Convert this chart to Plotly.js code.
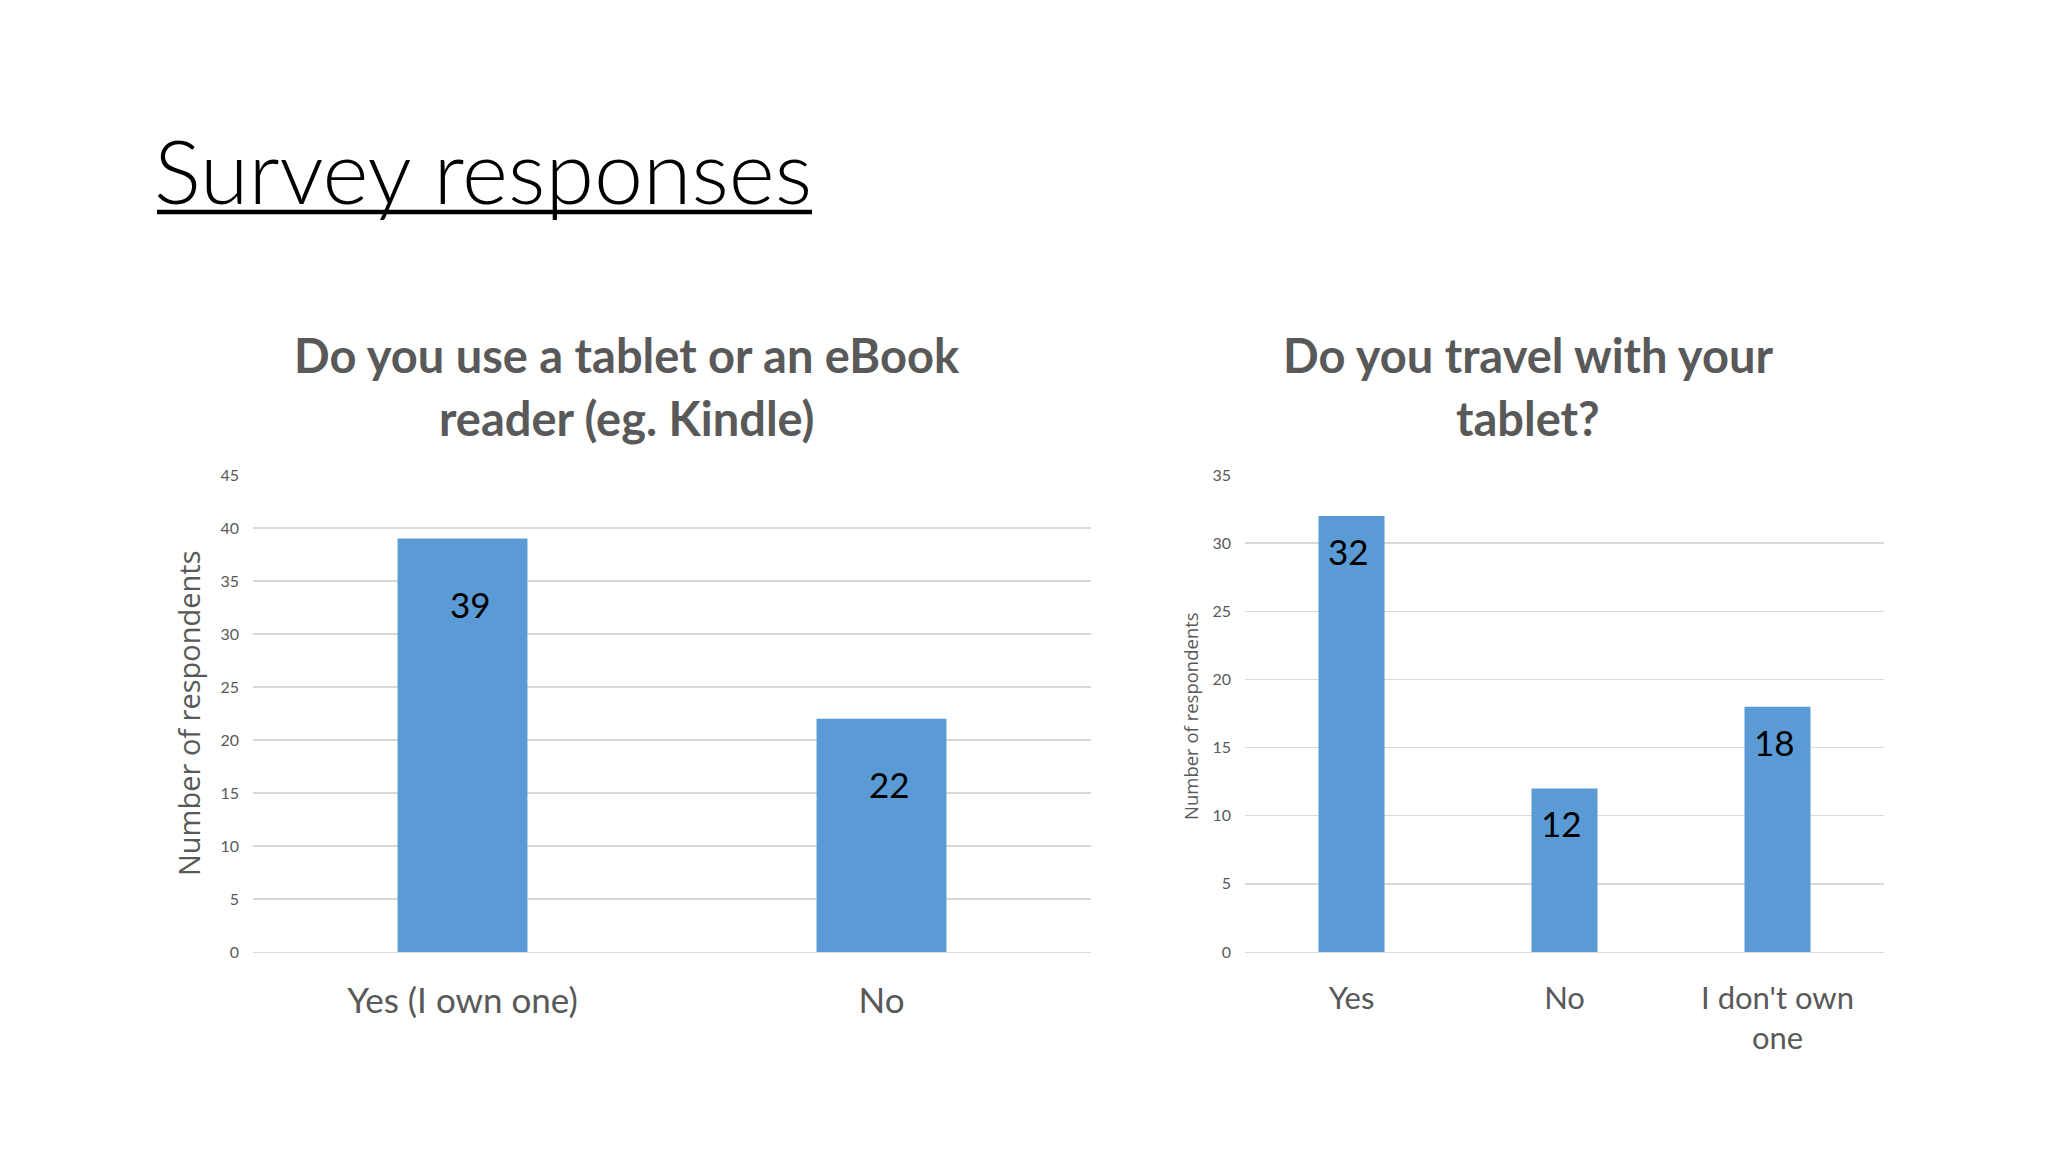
<!DOCTYPE html>
<html>
<head>
<meta charset="utf-8">
<script src="https://cdn.plot.ly/plotly-3.0.1.min.js"></script>
<style>html,body{margin:0;padding:0;background:#fff;}#chart{width:2048px;height:1152px;}</style>
</head>
<body>
<div id="chart"></div>
<script>
// ---- data ----
const pageTitle = "Survey responses";

const chart1Title = ["Do you use a tablet or an eBook", "reader (eg. Kindle)"];
const chart1Categories = ["Yes (I own one)", "No"];
const chart1Values = [39, 22];
const chart1YTitle = "Number of respondents";
const chart1YMax = 45;

const chart2Title = ["Do you travel with your", "tablet?"];
const chart2Categories = ["Yes", "No", "I don't own<br>one"];
const chart2Values = [32, 12, 18];
const chart2YTitle = "Number of respondents";
const chart2YMax = 35;

// ---- styles ----
const barColor = "#5B9BD5";
const gridColor = "#D9D9D9";
const textGrey = "#595959";
const baseFont = "Lato, 'Open Sans', sans-serif";

const traces = [
  {
    type: "bar", x: chart1Categories, y: chart1Values,
    xaxis: "x", yaxis: "y",
    marker: {color: barColor}, hoverinfo: "none"
  },
  {
    type: "bar", x: chart2Categories, y: chart2Values,
    xaxis: "x2", yaxis: "y2",
    marker: {color: barColor}, hoverinfo: "none"
  }
];

function yAxis(max, domain, size) {
  return {
    domain: domain, range: [0, max], dtick: 5, tick0: 0,
    showgrid: true, gridcolor: gridColor, gridwidth: 1.3,
    zeroline: false, showline: false, ticks: "",
    tickfont: {family: baseFont, size: size, color: textGrey},
    ticklabelstandoff: 13, fixedrange: true
  };
}
function xAxis(domain, anchor, size, standoff) {
  return {
    domain: domain, anchor: anchor, type: "category",
    showgrid: false, zeroline: false,
    showline: true, linecolor: gridColor, linewidth: 1.3, ticks: "",
    tickfont: {family: baseFont, size: size, color: textGrey},
    ticklabelstandoff: standoff, fixedrange: true
  };
}

const yDom = [1 - 952/1152, 1 - 475/1152];

const annotations = [];
// page title
annotations.push({
  text: pageTitle, xref: "paper", yref: "paper",
  x: 152/2048, y: 1 - 170/1152, xanchor: "left", yanchor: "middle",
  showarrow: false,
  font: {family: baseFont, size: 88, color: "#000000", weight: 300}
});
// chart titles
function addTitle(lines, xc) {
  const ys = [355, 418];
  lines.forEach((t, i) => annotations.push({
    text: "<b>" + t + "</b>", xref: "paper", yref: "paper",
    x: xc/2048, y: 1 - ys[i]/1152, xanchor: "center", yanchor: "middle",
    showarrow: false,
    font: {family: baseFont, size: 47, color: textGrey}
  }));
}
addTitle(chart1Title, 627);
addTitle(chart2Title, 1528);
// y titles
annotations.push({
  text: chart1YTitle, xref: "paper", yref: "paper",
  x: 188/2048, y: 1 - 713/1152, xanchor: "center", yanchor: "middle",
  textangle: -90, showarrow: false,
  font: {family: "'Open Sans', sans-serif", size: 29, color: textGrey}
});
annotations.push({
  text: chart2YTitle, xref: "paper", yref: "paper",
  x: 1190/2048, y: 1 - 716/1152, xanchor: "center", yanchor: "middle",
  textangle: -90, showarrow: false,
  font: {family: "'Open Sans', sans-serif", size: 18.5, color: textGrey}
});
// data labels
chart1Categories.forEach((c, i) => annotations.push({
  text: String(chart1Values[i]), xref: "x", yref: "y",
  x: c, y: chart1Values[i], xanchor: "center", yanchor: "top",
  yshift: -42, xshift: 8, showarrow: false,
  font: {family: baseFont, size: 35, color: "#000000"}
}));
chart2Categories.forEach((c, i) => annotations.push({
  text: String(chart2Values[i]), xref: "x2", yref: "y2",
  x: c, y: chart2Values[i], xanchor: "center", yanchor: "top",
  yshift: -12, xshift: -3, showarrow: false,
  font: {family: baseFont, size: 35, color: "#000000"}
}));

const layout = {
  width: 2048, height: 1152,
  margin: {l: 0, r: 0, t: 0, b: 0},
  paper_bgcolor: "#ffffff", plot_bgcolor: "rgba(0,0,0,0)",
  showlegend: false,
  bargap: 0.69,
  xaxis: xAxis([253/2048, 1091/2048], "y", 35, 18),
  yaxis: yAxis(chart1YMax, yDom, 16),
  xaxis2: xAxis([1245/2048, 1884/2048], "y2", 31, 18),
  yaxis2: yAxis(chart2YMax, yDom, 16),
  annotations: annotations,
  shapes: [{
    type: "line", xref: "paper", yref: "paper",
    x0: 157/2048, x1: 812/2048, y0: 1 - 212/1152, y1: 1 - 212/1152,
    line: {color: "#000000", width: 4.5}
  }]
};
layout.yaxis2.anchor = "x2";
layout.yaxis.anchor = "x";

Plotly.newPlot("chart", traces, layout, {staticPlot: true, displayModeBar: false});
</script>
</body>
</html>
